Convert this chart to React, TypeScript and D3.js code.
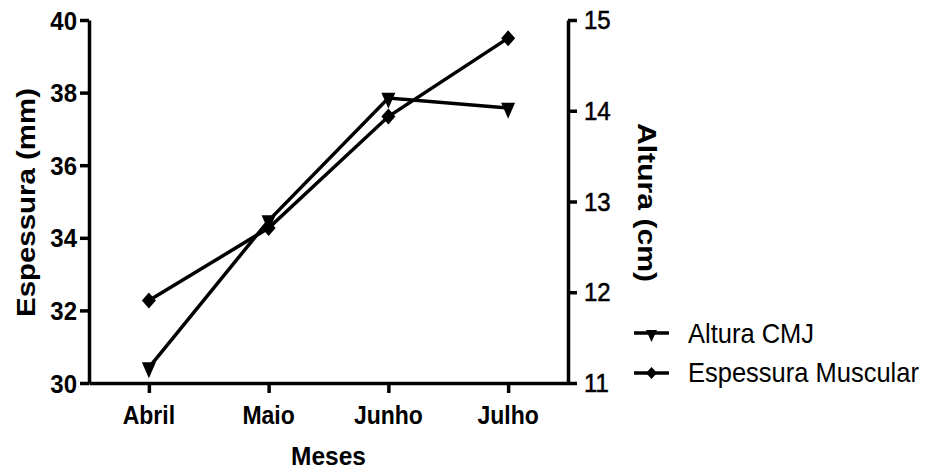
import React, { useEffect, useRef } from "react";
import * as d3 from "d3";

const months = ["Abril", "Maio", "Junho", "Julho"];
const espessura = [32.27, 34.27, 37.34, 39.5];
const alturaCMJ = [11.17, 12.79, 14.14, 14.03];
const leftTicks = [30, 32, 34, 36, 38, 40];
const rightTicks = [11, 12, 13, 14, 15];
const seriesNames = ["Altura CMJ", "Espessura Muscular"];

const W = 934;
const H = 469;
const FONT = "'Liberation Sans', Arial, Helvetica, sans-serif";

// custom marker shapes (GraphPad style)
const triangleDown = (w, h) => ({
  draw(ctx) {
    const top = -h / 3;
    ctx.moveTo(-w / 2, top);
    ctx.lineTo(w / 2, top);
    ctx.lineTo(0, (2 * h) / 3);
    ctx.closePath();
  },
});
const diamond = (w, h) => ({
  draw(ctx) {
    ctx.moveTo(0, -h / 2);
    ctx.lineTo(w / 2, 0);
    ctx.lineTo(0, h / 2);
    ctx.lineTo(-w / 2, 0);
    ctx.closePath();
  },
});

const App = () => {
  const svgRef = useRef<SVGSVGElement>(null);

  useEffect(() => {
    const svg = d3.select(svgRef.current);
    svg.selectAll("*").remove();

    const margin = { left: 89, right: W - 568, top: 20, bottom: H - 383 };

    const x = d3
      .scalePoint()
      .domain(months)
      .range([margin.left, W - margin.right])
      .padding(0.5);
    const yL = d3.scaleLinear().domain([30, 40]).range([H - margin.bottom, margin.top]);
    const yR = d3.scaleLinear().domain([11, 15]).range([H - margin.bottom, margin.top]);

    const styleAxis = (g) => {
      g.selectAll("path.domain").attr("stroke", "#000").attr("stroke-width", 3.5);
      g.selectAll(".tick line").attr("stroke", "#000").attr("stroke-width", 3.5);
    };

    // Eixo X
    svg
      .append("g")
      .attr("transform", `translate(0,${H - margin.bottom})`)
      .call(d3.axisBottom(x).tickSize(10).tickSizeOuter(0).tickFormat(() => ""))
      .call(styleAxis);

    months.forEach((m) => {
      svg
        .append("text")
        .attr("transform", `translate(${x(m)},424) scale(1,1.1)`)
        .attr("text-anchor", "middle")
        .attr("font-family", FONT)
        .attr("font-weight", "bold")
        .attr("font-size", 23)
        .text(m);
    });

    // Eixo Y esquerdo
    svg
      .append("g")
      .attr("transform", `translate(${margin.left},0)`)
      .call(d3.axisLeft(yL).tickValues(leftTicks).tickSize(9).tickSizeOuter(0).tickFormat(() => ""))
      .call(styleAxis);

    leftTicks.forEach((t) => {
      svg
        .append("text")
        .attr("transform", `translate(77,${yL(t) + 9.5}) scale(1,1.08)`)
        .attr("text-anchor", "end")
        .attr("font-family", FONT)
        .attr("font-weight", "bold")
        .attr("font-size", 24)
        .text(t);
    });

    // Eixo Y direito
    svg
      .append("g")
      .attr("transform", `translate(${W - margin.right},0)`)
      .call(d3.axisRight(yR).tickValues(rightTicks).tickSize(9).tickSizeOuter(0).tickFormat(() => ""))
      .call(styleAxis);

    rightTicks.forEach((t) => {
      svg
        .append("text")
        .attr("transform", `translate(584,${yR(t) + 9}) scale(1,1.1)`)
        .attr("font-family", FONT)
        .attr("font-size", 24)
        .attr("stroke", "#000")
        .attr("stroke-width", 0.5)
        .text(t);
    });

    // Títulos
    svg
      .append("text")
      .attr("transform", "translate(34.5,202.5) rotate(-90)")
      .attr("text-anchor", "middle")
      .attr("font-family", FONT)
      .attr("font-weight", "bold")
      .attr("font-size", 26)
      .attr("textLength", 229)
      .attr("lengthAdjust", "spacingAndGlyphs")
      .text("Espessura (mm)");

    svg
      .append("text")
      .attr("transform", "translate(637.5,202.5) rotate(90)")
      .attr("text-anchor", "middle")
      .attr("font-family", FONT)
      .attr("font-weight", "bold")
      .attr("font-size", 26)
      .attr("textLength", 159)
      .attr("lengthAdjust", "spacingAndGlyphs")
      .text("Altura (cm)");

    svg
      .append("text")
      .attr("transform", `translate(${(margin.left + W - margin.right) / 2},465) scale(1,1.08)`)
      .attr("text-anchor", "middle")
      .attr("font-family", FONT)
      .attr("font-weight", "bold")
      .attr("font-size", 24.5)
      .text("Meses");

    // Linhas
    const lineL = d3
      .line<number>()
      .x((_, i) => x(months[i]))
      .y((d) => yL(d));
    const lineR = d3
      .line<number>()
      .x((_, i) => x(months[i]))
      .y((d) => yR(d));

    svg
      .append("path")
      .attr("d", lineR(alturaCMJ))
      .attr("fill", "none")
      .attr("stroke", "#000")
      .attr("stroke-width", 3.5);
    svg
      .append("path")
      .attr("d", lineL(espessura))
      .attr("fill", "none")
      .attr("stroke", "#000")
      .attr("stroke-width", 3.5);

    const triSym = d3.symbol().type(triangleDown(14, 16));
    const diaSym = d3.symbol().type(diamond(14, 16));

    svg
      .selectAll("path.tri")
      .data(alturaCMJ)
      .enter()
      .append("path")
      .attr("class", "tri")
      .attr("d", triSym())
      .attr("transform", (d, i) => `translate(${x(months[i])},${yR(d)})`)
      .attr("fill", "#000");

    svg
      .selectAll("path.dia")
      .data(espessura)
      .enter()
      .append("path")
      .attr("class", "dia")
      .attr("d", diaSym())
      .attr("transform", (d, i) => `translate(${x(months[i])},${yL(d)})`)
      .attr("fill", "#000");

    // Legenda
    const legendSyms = [d3.symbol().type(triangleDown(11, 12))(), d3.symbol().type(diamond(11, 12))()];
    seriesNames.forEach((name, i) => {
      const row = svg.append("g").attr("transform", `translate(634,${333 + i * 40})`);
      row
        .append("line")
        .attr("x1", 0)
        .attr("x2", 35)
        .attr("stroke", "#000")
        .attr("stroke-width", 3.5);
      row
        .append("path")
        .attr("d", legendSyms[i])
        .attr("transform", `translate(17.5,${i === 0 ? 1 : 0})`)
        .attr("fill", "#000");
      row
        .append("text")
        .attr("transform", `translate(54,${i === 0 ? 10 : 9}) scale(1,1.1)`)
        .attr("font-family", FONT)
        .attr("font-size", 25.5)
        .text(name);
    });
  }, []);

  return (
    <svg
      ref={svgRef}
      width={W}
      height={H}
      style={{ position: "absolute", left: 0, top: 0, background: "#fff" }}
    />
  );
};

export default App;
